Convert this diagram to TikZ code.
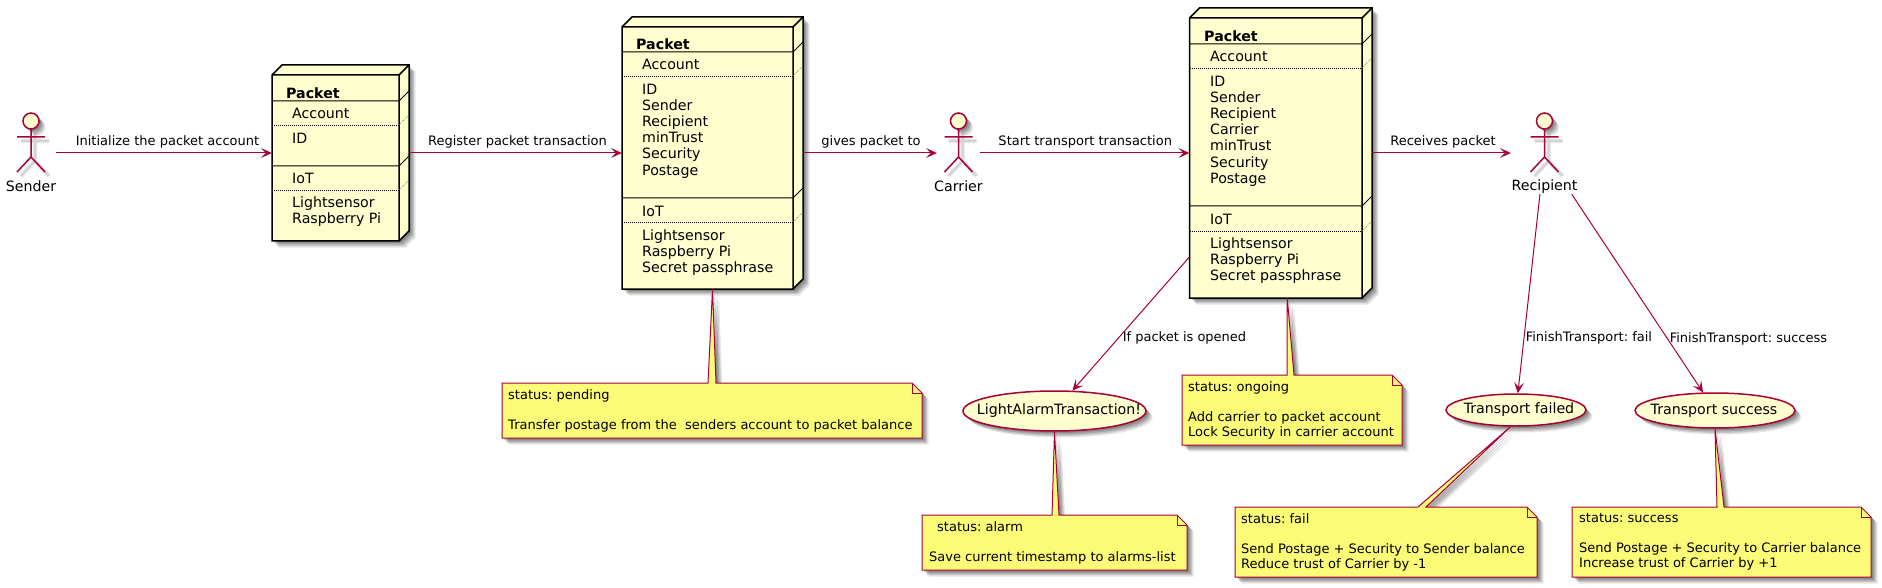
\documentclass[tikz,border=0pt]{standalone}
\usepackage{fontspec}
\setmainfont{DejaVu Sans}
\frenchspacing
\usetikzlibrary{arrows.meta,shapes.geometric,shadows}

\definecolor{umlred}{HTML}{A80036}
\definecolor{bodyfill}{HTML}{FEFECE}
\definecolor{notefill}{HTML}{FBFB77}

\tikzset{
    softshadow/.style={
        general shadow={shadow xshift=2pt, shadow yshift=-2pt, fill=black, draw=none, opacity=.16},
        general shadow={shadow xshift=3.5pt, shadow yshift=-3.5pt, fill=black, draw=none, opacity=.16},
        general shadow={shadow xshift=5pt, shadow yshift=-5pt, fill=black, draw=none, opacity=.14},
        general shadow={shadow xshift=6.5pt, shadow yshift=-6.5pt, fill=black, draw=none, opacity=.10}},
    lineshadow/.style={draw=black, line width=4.5pt, opacity=.09},
    boxline/.style={draw=black, line width=1.5pt},
    sepline/.style={draw=black, line width=1pt},
    dotline/.style={draw=black, line width=.6pt, dash pattern=on 1pt off 1pt},
    dotside/.style={draw=black!55, line width=.6pt, dash pattern=on 1pt off 1pt},
    packetshape/.style={rectangle, inner sep=0pt},
    actorbox/.style={rectangle, inner sep=0pt, minimum height=82pt},
    actorline/.style={draw=umlred, line width=1.5pt},
    usecase/.style={ellipse, draw=umlred, fill=bodyfill, line width=1.5pt, inner sep=0pt, softshadow},
    usecaselabel/.style={inner sep=0pt, font=\fontsize{14.2}{16}\selectfont},
    body/.style={anchor=west, inner sep=0pt, align=left, font=\fontsize{14.2}{16.2}\selectfont},
    title/.style={anchor=west, inner sep=0pt, font=\fontsize{14.2}{16.2}\selectfont\bfseries},
    notetext/.style={anchor=west, inner sep=0pt, align=left, font=\fontsize{13}{15}\selectfont},
    notebody/.style={draw=umlred, fill=notefill, line width=1pt, softshadow},
    link/.style={draw=umlred, line width=1pt, -{Stealth[length=11pt, width=10pt, inset=5pt]}},
    linklabel/.style={inner sep=0pt, font=\fontsize{13}{15}\selectfont}
}

% actor: name, x, width of its label, label
\newcommand{\stickman}[4]{
    \node[actorbox, minimum width=#3] (#1) at (#2,153) {};
    \begin{scope}[shift={(#2+4,4)}]
        \draw[lineshadow] (0,129) -- (0,157) (-14,137) -- (14,137) (-14,172) -- (0,157) -- (14,172);
        \draw[lineshadow, line width=2pt] (0,129) -- (0,157) (-14,137) -- (14,137) (-14,172) -- (0,157) -- (14,172);
    \end{scope}
    \begin{scope}[shift={(#2,0)}]
        \draw[actorline, fill=bodyfill, softshadow] (0,121) circle (8);
        \draw[actorline] (0,129) -- (0,157) (-14,137) -- (14,137) (-14,172) -- (0,157) -- (14,172);
    \end{scope}
    \node[inner sep=0pt, font=\fontsize{14.2}{16}\selectfont] (#1label) at (#2,186.5) {#4};
}

% box: name, x0, y0, x1, y1, then the four dividers
\newcommand{\packetbox}[9]{
    \node[packetshape, minimum width={#4+10-#2}, minimum height={#5+10-#3}] (#1) at ({(#2+#4+10)/2},{(#3-10+#5)/2}) {};
    \draw[boxline, fill=bodyfill, softshadow] (#2,#3) -- ({#2+10},{#3-10}) -- ({#4+10},{#3-10}) -- ({#4+10},{#5-10}) -- (#4,#5) -- (#2,#5) -- cycle;
    \draw[boxline] (#2,#3) -- (#4,#3) -- (#4,#5) (#4,#3) -- ({#4+10},{#3-10});
    \draw[sepline] (#2,#6) -- (#4,#6) -- ({#4+10},{#6-10});
    \draw[sepline] (#2,#8) -- (#4,#8) -- ({#4+10},{#8-10});
    \draw[dotline] (#2,#7) -- (#4,#7);
    \draw[dotline] (#2,#9) -- (#4,#9);
    \draw[dotside] (#4,#7) -- ({#4+10},{#7-10});
    \draw[dotside] (#4,#9) -- ({#4+10},{#9-10});
}

% note: x0, y0, x1, y1, wedge start, wedge end, wedge tip
\newcommand{\notebox}[7]{
    \draw[notebody] (#1,#2) -- (#5,#2) -- #7 -- (#6,#2) -- ({#3-10},#2) -- (#3,{#2+10}) -- (#3,#4) -- (#1,#4) -- cycle;
    \draw[draw=umlred, line width=1pt] ({#3-10},#2) -- ({#3-10},{#2+10}) -- (#3,{#2+10});
}

\begin{document}
\begin{tikzpicture}[x=1pt, y=-1pt]
    \useasboundingbox[fill=white] (0,0) rectangle (1882,588);

    % Actors
    \stickman{sender}{31}{50}{Sender}
    \stickman{carrier}{958.5}{43}{Carrier}
    \stickman{recipient}{1544.5}{67}{Recipient}

    % First packet
    \packetbox{packetA}{272}{75}{399}{241}{101}{125}{166}{190}
    \node[title] (titleA) at (286,93) {Packet};
    \node[body] (accountA) at (292,113) {Account};
    \node[body] (fieldsA) at (292,138) {ID};
    \node[body] (iotA) at (292,178) {IoT};
    \node[body] (partsA) at (292,211.5) {Lightsensor\\Raspberry Pi};

    % Second packet
    \packetbox{packetB}{622}{27}{793}{289}{52}{76}{198}{222}
    \node[title] (titleB) at (636,44) {Packet};
    \node[body] (accountB) at (642,64) {Account};
    \node[body] (fieldsB) at (642,131) {ID\\Sender\\Recipient\\minTrust\\Security\\Postage};
    \node[body] (iotB) at (642,211) {IoT};
    \node[body] (partsB) at (642,252.5) {Lightsensor\\Raspberry Pi\\Secret passphrase};

    % Third packet
    \packetbox{packetC}{1189.5}{18}{1362}{298}{44}{68}{206}{231}
    \node[title] (titleC) at (1204,36) {Packet};
    \node[body] (accountC) at (1210,56) {Account};
    \node[body] (fieldsC) at (1210,131) {ID\\Sender\\Recipient\\Carrier\\minTrust\\Security\\Postage};
    \node[body] (iotC) at (1210,219) {IoT};
    \node[body] (partsC) at (1210,260.5) {Lightsensor\\Raspberry Pi\\Secret passphrase};

    % Use cases
    \node[usecase, minimum width=183pt, minimum height=40pt] (alarm) at (1054.5,411) {};
    \node[usecaselabel] (alarmLabel) at (1059,411) {LightAlarmTransaction!};
    \node[usecase, minimum width=140pt, minimum height=32pt] (failed) at (1516,410) {};
    \node[usecaselabel] (failedLabel) at (1519,410) {Transport failed};
    \node[usecase, minimum width=160pt, minimum height=35pt] (success) at (1715,410.5) {};
    \node[usecaselabel] (successLabel) at (1714,410.5) {Transport success};

    % Arrows along the top
    \draw[link] (sender) -- node[linklabel, above=4pt, xshift=3.5pt] {Initialize the packet account} (packetA);
    \draw[link] (packetA) -- node[linklabel, above=4pt, xshift=2pt] {Register packet transaction} (packetB);
    \draw[link] (packetB) -- node[linklabel, above=4pt, xshift=1pt] {gives packet to} (carrier);
    \draw[link] (carrier) -- node[linklabel, above=4pt, xshift=.5pt] {Start transport transaction} (packetC);
    \draw[link] (packetC) -- node[linklabel, above=4pt, xshift=1.5pt] {Receives packet} (recipient);

    % Arrows going down
    \draw[link] (packetC) -- node[linklabel, pos=.59, anchor=west, xshift=2pt, yshift=-2pt] {If packet is opened} (alarm);
    \draw[link] (recipient) -- node[linklabel, pos=.71, anchor=west, xshift=1pt, yshift=-2pt] {FinishTransport: fail} (failed);
    \draw[link] (recipient) -- node[linklabel, pos=.72, anchor=west, xshift=3pt, yshift=-2pt] {FinishTransport: success} (success);

    % Notes
    \notebox{502}{383}{922}{438}{708}{716}{(packetB.south)}
    \node[notetext] (notePending) at (508,411) {status: pending\\ \\Transfer postage from the\ \ senders account to packet balance};

    \notebox{1182}{375}{1402}{445}{1287}{1294}{([xshift=6.5pt]packetC.south)}
    \node[notetext] (noteOngoing) at (1188,410.5) {status: ongoing\\ \\Add carrier to packet account\\Lock Security in carrier account};

    \notebox{922}{515}{1187}{570}{1052}{1059}{(alarm.south)}
    \node[notetext] (noteAlarm) at (929,542.5) {\hspace*{8pt}status: alarm\\ \\Save current timestamp to alarms-list};

    \notebox{1235}{507}{1537}{577}{1418}{1426}{(failed.-108)}
    \node[notetext] (noteFail) at (1241,542) {status: fail\\ \\Send Postage + Security to Sender balance\\Reduce trust of Carrier by -1};

    \notebox{1572}{507}{1871}{577}{1717}{1724}{(success.south)}
    \node[notetext] (noteSuccess) at (1579,542) {status: success\\ \\Send Postage + Security to Carrier balance\\Increase trust of Carrier by +1};
\end{tikzpicture}
\end{document}
